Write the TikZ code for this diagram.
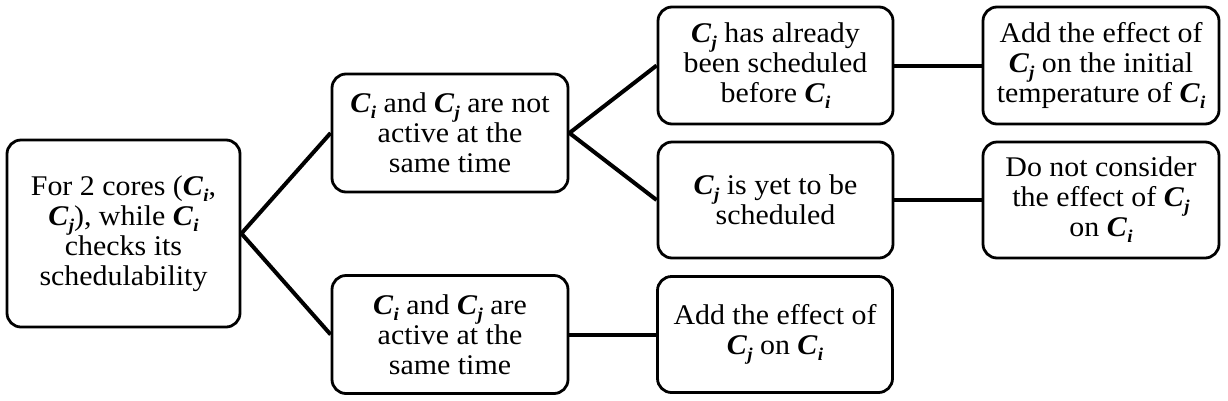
\documentclass[tikz,border=0pt]{standalone}
\usepackage{fontspec}
\setmainfont{Liberation Serif}[FakeStretch=1.05]
\newcommand{\Cb}[1]{{\bfseries\itshape C\kern0.5pt\raisebox{-6pt}{\fontsize{18}{18}\selectfont #1}}}
\begin{document}
\begin{tikzpicture}[x=1pt,y=-1pt,
  box/.style={draw=black,line width=2.8pt,rounded corners=14pt,align=center,
    inner sep=0pt,font=\fontsize{28.5}{30}\selectfont,fill=white},
  conn/.style={line width=4pt,draw=black}]
\useasboundingbox (0,0) rectangle (1228,400);
\node[box,minimum width=233pt,minimum height=187pt] (root) at (123.5,233.5) {For 2 cores (\Cb{i},\\\Cb{j}), while \Cb{i}\\checks its\\schedulability};
\node[box,minimum width=236pt,minimum height=118pt] (b) at (450,133) {\Cb{i} and \Cb{j} are not\\active at the\\same time};
\node[box,minimum width=235pt,minimum height=117pt] (c) at (775.5,65.5) {\Cb{j} has already\\been scheduled\\before \Cb{i}};
\node[box,minimum width=235pt,minimum height=116pt] (d) at (775.5,200) {\Cb{j} is yet to be\\scheduled};
\node[box,minimum width=236pt,minimum height=117pt] (e) at (1101,65.5) {Add the effect of\\\Cb{j} on the initial\\temperature of \Cb{i}};
\node[box,minimum width=236pt,minimum height=116pt] (f) at (1101,200) {Do not consider\\the effect of \Cb{j}\\on \Cb{i}};
\node[box,minimum width=236pt,minimum height=118pt] (g) at (450,334.5) {\Cb{i} and \Cb{j} are\\active at the\\same time};
\node[box,minimum width=235pt,minimum height=116pt] (h) at (775,334.5) {Add the effect of\\\Cb{j} on \Cb{i}};
\draw[conn] (root.east) -- (b.west);
\draw[conn] (root.east) -- (g.west);
\draw[conn] (b.east) -- (c.west);
\draw[conn] (b.east) -- (d.west);
\draw[conn] (c.east) -- (e.west);
\draw[conn] (d.east) -- (f.west);
\draw[conn] (g.east) -- (h.west);
\end{tikzpicture}
\end{document}
